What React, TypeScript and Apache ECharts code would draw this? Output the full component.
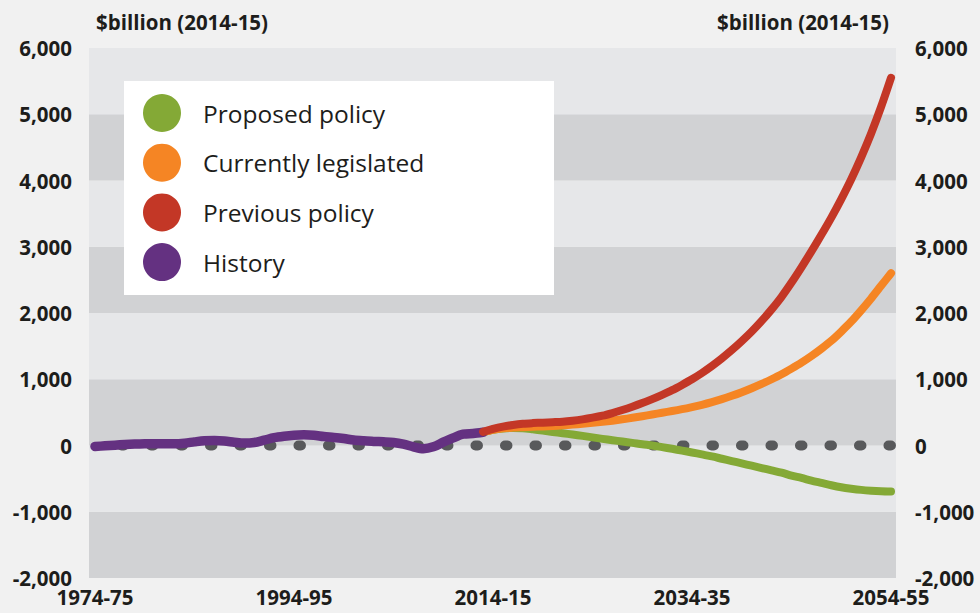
import React, { useEffect, useRef } from "react";
import * as echarts from "echarts";

// Years are the first year of each financial year (1974 => 1974-75)
const historyStart = 1974;
const historyValues = [
  -15, -5, 5, 15, 22, 26, 27, 26, 25, 35,
  55, 72, 75, 68, 50, 36, 45, 80, 118, 140,
  155, 162, 155, 135, 122, 105, 82, 70, 62, 55,
  45, 20, -20, -48, -20, 50, 115, 170, 182, 200,
];

const projectionStart = 2013;
const proposedValues = [
  200, 238, 258, 266, 262, 245, 225, 205, 185, 165,
  145, 122, 100, 80, 60, 40, 18, 0, -25, -50,
  -78, -105, -135, -165, -200, -235, -270, -305, -340, -375,
  -410, -455, -490, -530, -565, -600, -630, -652, -670, -682,
  -690, -694,
];
const legislatedValues = [
  200, 238, 260, 270, 276, 282, 288, 295, 305, 315,
  328, 342, 358, 375, 395, 418, 442, 468, 495, 520,
  548, 580, 615, 655, 700, 750, 805, 865, 930, 1000,
  1075, 1160, 1250, 1350, 1460, 1580, 1720, 1870, 2040, 2220,
  2410, 2600,
];
const previousValues = [
  205, 250, 285, 310, 328, 338, 345, 352, 360, 375,
  395, 420, 450, 490, 535, 585, 640, 700, 765, 835,
  915, 1000, 1095, 1200, 1315, 1440, 1575, 1720, 1880, 2055,
  2245, 2460, 2690, 2930, 3180, 3440, 3720, 4020, 4350, 4710,
  5110, 5550,
];

const zeroLine = [
  [1974, 0],
  [2054, 0],
];

const xTickYears = [1974, 1994, 2014, 2034, 2054];
const yMin = -2000;
const yMax = 6000;
const yStep = 1000;

const seriesNames = ["Proposed policy", "Currently legislated", "Previous policy", "History"];
const unitLabel = "$billion (2014-15)";

const toPairs = (start: number, values: number[]) => values.map((v, i) => [start + i, v]);
const fyLabel = (y: number) => `${y}-${String((y + 1) % 100).padStart(2, "0")}`;

const FONT = "'Open Sans', 'Noto Sans', sans-serif";
const TEXT = "#1d1d1b";
const LABEL_SIZE = 20.5;

export default function App() {
  const ref = useRef<HTMLDivElement>(null);
  useEffect(() => {
    if (!ref.current) return;
    const chart = echarts.init(ref.current, undefined, { renderer: "svg" });
    const yLabel = {
      fontFamily: FONT,
      fontWeight: "bold" as const,
      fontSize: LABEL_SIZE,
      color: TEXT,
      formatter: (v: number) => v.toLocaleString("en-US"),
    };
    const lineSeries = (name: string, data: number[][], color: string, width: number, z: number) => ({
      name,
      type: "line",
      data,
      showSymbol: false,
      symbol: "circle",
      smooth: 0.3,
      z,
      lineStyle: { color, width, cap: "round", join: "round" },
      itemStyle: { color },
    });
    chart.setOption({
      animation: false,
      backgroundColor: "#f1f1f1",
      textStyle: { fontFamily: FONT },
      title: [
        {
          text: unitLabel,
          left: 91,
          top: 6,
          textStyle: { fontFamily: FONT, fontWeight: "bold", fontSize: LABEL_SIZE, color: TEXT },
        },
        {
          text: unitLabel,
          right: 86,
          top: 6,
          textStyle: { fontFamily: FONT, fontWeight: "bold", fontSize: LABEL_SIZE, color: TEXT },
        },
      ],
      grid: { left: 89, right: 84, top: 48, bottom: 35, containLabel: false },
      graphic: [
        {
          type: "rect",
          left: 124,
          top: 81,
          shape: { width: 430, height: 214 },
          style: { fill: "#ffffff" },
          z: 50,
        },
      ],
      legend: {
        orient: "vertical",
        left: 124,
        top: 81,
        padding: [13, 0, 13, 19],
        itemWidth: 72,
        itemHeight: 38,
        itemGap: 11.7,
        icon: "circle",
        z: 60,
        data: seriesNames,
        textStyle: { fontFamily: FONT, fontSize: 24.5, color: TEXT },
      },
      xAxis: {
        type: "value",
        min: 1973.4,
        max: 2054.5,
        axisLine: { show: false },
        axisTick: { show: false },
        splitLine: { show: false },
        axisLabel: {
          customValues: xTickYears,
          formatter: (v: number) => fyLabel(v),
          fontFamily: FONT,
          fontWeight: "bold",
          fontSize: LABEL_SIZE,
          color: TEXT,
          margin: 8,
        },
      },
      yAxis: [
        {
          type: "value",
          position: "left",
          min: yMin,
          max: yMax,
          interval: yStep,
          axisLine: { show: false },
          axisTick: { show: false },
          splitLine: { show: false },
          splitArea: { show: true, areaStyle: { color: ["#d1d2d4", "#e6e7e9"] } },
          axisLabel: { ...yLabel, margin: 17 },
        },
        {
          type: "value",
          position: "right",
          min: yMin,
          max: yMax,
          interval: yStep,
          axisLine: { show: false },
          axisTick: { show: false },
          splitLine: { show: false },
          axisLabel: { ...yLabel, margin: 19 },
        },
      ],
      series: [
        {
          name: "zero",
          type: "line",
          data: zeroLine,
          showSymbol: false,
          silent: true,
          z: 1,
          lineStyle: { color: "#58595b", width: 10, type: [2.5, 27], dashOffset: 2.75, cap: "round" },
        },
        lineSeries(seriesNames[0], toPairs(projectionStart, proposedValues), "#84a936", 8, 2),
        lineSeries(seriesNames[1], toPairs(projectionStart, legislatedValues), "#f58524", 8, 3),
        lineSeries(seriesNames[3], toPairs(historyStart, historyValues), "#643181", 9.5, 4),
        lineSeries(seriesNames[2], toPairs(projectionStart, previousValues), "#c33726", 8, 5),
      ],
    });
    return () => chart.dispose();
  }, []);
  return <div ref={ref} style={{ width: 980, height: 613, position: "absolute", left: 0, top: 0 }} />;
}
